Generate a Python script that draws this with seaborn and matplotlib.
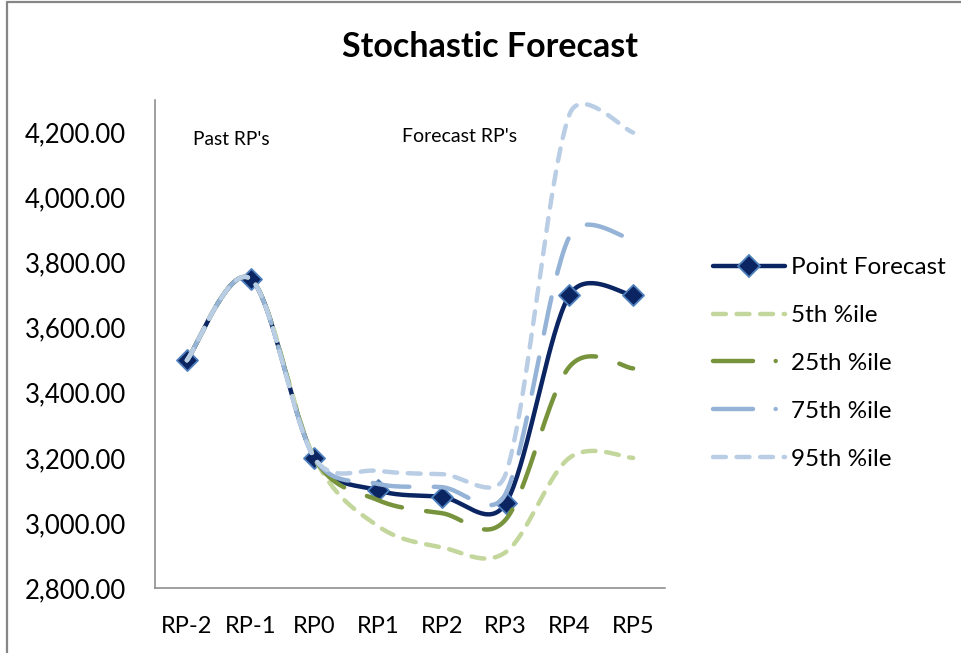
import numpy as np
import pandas as pd
import matplotlib
matplotlib.use("Agg")
import matplotlib.pyplot as plt
from matplotlib.lines import Line2D
import seaborn as sns

# values
categories = ["RP-2", "RP-1", "RP0", "RP1", "RP2", "RP3", "RP4", "RP5"]
point_forecast = [3500, 3750, 3200, 3100, 3080, 3060, 3700, 3700]
pct_5 = [3500, 3750, 3200, 2990, 2925, 2910, 3200, 3200]
pct_25 = [3500, 3750, 3200, 3070, 3030, 3010, 3480, 3475]
pct_75 = [3500, 3750, 3200, 3120, 3110, 3090, 3880, 3870]
pct_95 = [3500, 3750, 3200, 3160, 3150, 3150, 4255, 4200]
y_ticks = [2800, 3000, 3200, 3400, 3600, 3800, 4000, 4200]

sns.set_theme(style="white")
plt.rcParams["font.family"] = ["Lato", "DejaVu Sans"]
plt.rcParams["text.color"] = "black"

W, H = 961, 653
fig = plt.figure(figsize=(W / 100, H / 100), dpi=100)
ax = fig.add_axes([155 / W, 1 - 588 / H, 510 / W, 488 / H])
ax.set_xlim(-0.5, 7.5)
ax.set_ylim(2800, 4300)

# pixel scale, used only to mimic Excel's smoothed line in screen space
PX_X = 510 / 8.0
PX_Y = 488 / 1500.0


def excel_smooth(values, n=40):
    """Bezier smoothing in the style of Excel's 'smoothed line'."""
    xs = np.arange(len(values)) * PX_X
    ys = np.asarray(values, dtype=float) * PX_Y
    pts = np.column_stack([xs, ys])
    ext = np.vstack([pts[0], pts, pts[-1]])
    out = []
    for i in range(len(pts) - 1):
        p0, p1 = pts[i], pts[i + 1]
        t0 = ext[i + 2] - ext[i]
        t1 = ext[i + 3] - ext[i + 1]
        seg = np.linalg.norm(p1 - p0)
        c1 = t0 / 6.0
        c2 = t1 / 6.0
        if np.linalg.norm(c1) > 0.5 * seg:
            c1 = c1 / np.linalg.norm(c1) * 0.5 * seg
        if np.linalg.norm(c2) > 0.5 * seg:
            c2 = c2 / np.linalg.norm(c2) * 0.5 * seg
        c1 = p0 + c1
        c2 = p1 - c2
        t = np.linspace(0, 1, n)[:, None]
        b = ((1 - t) ** 3) * p0 + 3 * ((1 - t) ** 2) * t * c1 \
            + 3 * (1 - t) * t ** 2 * c2 + t ** 3 * p1
        out.append(b if i == 0 else b[1:])
    curve = np.vstack(out)
    return curve[:, 0] / PX_X, curve[:, 1] / PX_Y


navy = "#0B2563"
c5, c25, c75, c95 = "#C3D69B", "#77933C", "#95B3D7", "#B9CDE5"
lw = 3.2
dash_short = (0, (2.9, 2.4))
dash_long = (0, (8.3, 5.5))

series = [
    ("Point Forecast", point_forecast, navy, "-", 2),
    ("5th %ile", pct_5, c5, dash_short, 3),
    ("25th %ile", pct_25, c25, dash_long, 4),
    ("75th %ile", pct_75, c75, dash_long, 5),
    ("95th %ile", pct_95, c95, dash_short, 6),
]

for name, vals, col, ls, z in series:
    sx, sy = excel_smooth(vals)
    sns.lineplot(x=sx, y=sy, ax=ax, color=col, lw=lw, linestyle=ls,
                 sort=False, estimator=None, dash_capstyle="round",
                 solid_capstyle="round", zorder=z)
    if name == "Point Forecast":
        pts = pd.DataFrame({"x": np.arange(len(categories)), "y": vals})
        sns.scatterplot(data=pts, x="x", y="y", ax=ax, marker="D", s=115,
                        color=navy, edgecolor="#4F81BD", linewidth=1.3,
                        zorder=z + 0.5)

# axes styling (Excel look)
grey = "#868686"
for side in ["top", "right"]:
    ax.spines[side].set_visible(False)
for side in ["left", "bottom"]:
    ax.spines[side].set_color(grey)
    ax.spines[side].set_linewidth(1.1)
ax.set_yticks(y_ticks)
ax.set_yticklabels([f"{v:,.2f}" for v in y_ticks])
ax.set_xticks(np.arange(len(categories)))
ax.set_xticklabels(categories)
ax.set_xticks(np.arange(len(categories) + 1) - 0.5, minor=True)
ax.tick_params(axis="x", which="major", length=0, pad=20, labelsize=17,
               labelcolor="black")
ax.tick_params(axis="x", which="minor", length=7, width=1.1, color=grey,
               direction="out")
ax.tick_params(axis="y", which="major", length=7, width=1.1, color=grey,
               direction="out", pad=14, labelsize=18.5, labelcolor="black")
ax.set_xlabel("")
ax.set_ylabel("")
ax.grid(False)

ax.text(0.69, 4180, "Past RP's", ha="center", va="center", fontsize=13.8)
ax.text(4.28, 4188, "Forecast RP's", ha="center", va="center", fontsize=14)

fig.text(490 / W, 1 - 47 / H, "Stochastic Forecast", ha="center",
         va="center", fontsize=24.5, fontweight="bold")

long_dot = (0, (9, 5.1, 0.01, 5.1))
handles = [
    Line2D([], [], color=navy, lw=lw, marker="D", markersize=10.7,
           markerfacecolor=navy, markeredgecolor="#4F81BD", markeredgewidth=1.3),
    Line2D([], [], color=c5, lw=lw, linestyle=dash_short, dash_capstyle="round"),
    Line2D([], [], color=c25, lw=lw, linestyle=long_dot, dash_capstyle="round"),
    Line2D([], [], color=c75, lw=lw, linestyle=long_dot, dash_capstyle="round"),
    Line2D([], [], color=c95, lw=lw, linestyle=dash_short, dash_capstyle="round"),
]
labels = [s[0] for s in series]
fig.legend(handles, labels, loc="upper left",
           bbox_to_anchor=(713 / W, 1 - 257 / H), frameon=False,
           fontsize=17.5, handlelength=2.96, handletextpad=0.25,
           labelspacing=1.11, borderpad=0, borderaxespad=0)

# chart-area border (left and top edges visible in the reference)
fig.add_artist(Line2D([7 / W, 7 / W], [0, 1 - 2 / H], color=grey, lw=1.6,
                      transform=fig.transFigure))
fig.add_artist(Line2D([7 / W, 1], [1 - 2 / H, 1 - 2 / H], color=grey, lw=1.6,
                      transform=fig.transFigure))

fig.savefig("out.png", dpi=100)
